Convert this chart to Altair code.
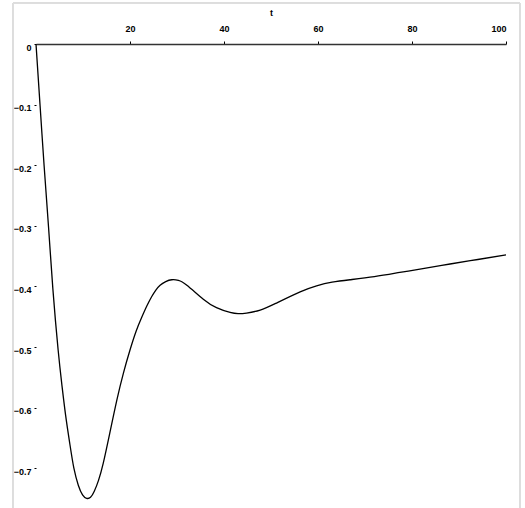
import altair as alt
import pandas as pd

t_vals = [0, 0.87, 1.73, 2.67, 3.58, 4.71, 5.5, 6.29, 7.2, 8.06, 9.0, 9.9, 10.77, 11.6, 12.4, 13.3, 14.3,
          15.7, 17.2, 18.6, 20, 21.3, 22.5, 23.6, 24.6, 25.5, 26.4, 27.6, 28.9, 30.3, 32.1, 35.6, 38.4,
          41.3, 43, 44.8, 47.7, 51, 56.2, 59.7, 63, 66.8, 72, 77.4, 82, 88.1, 94, 100]
v_vals = [0, -0.1018, -0.2013, -0.3025, -0.4032, -0.505, -0.562, -0.612, -0.66, -0.70, -0.728, -0.744, -0.7497, -0.748, -0.738, -0.72, -0.692,
          -0.642, -0.5875, -0.543, -0.505, -0.474, -0.451, -0.432, -0.417, -0.406, -0.398, -0.392, -0.389, -0.39, -0.398, -0.421, -0.435,
          -0.443, -0.445, -0.444, -0.439, -0.428, -0.409, -0.399, -0.393, -0.389, -0.384, -0.377, -0.371, -0.363, -0.3556, -0.348]

x_ticks = [20, 40, 60, 80, 100]
y_ticks = [0, -0.1, -0.2, -0.3, -0.4, -0.5, -0.6, -0.7]

df = pd.DataFrame({"t": t_vals, "v": v_vals})

FONT = "Liberation Sans"

line = alt.Chart(df).mark_line(color="black", strokeWidth=1.3, interpolate="natural", clip=False).encode(
    x=alt.X("t:Q", scale=alt.Scale(domain=[0, 100], nice=False, zero=False),
            axis=alt.Axis(orient="top", values=x_ticks, title="t", titleFont=FONT, titleFontSize=9,
                          titleFontWeight="bold", titlePadding=7, labelFont=FONT, labelFontSize=9,
                          labelFontWeight="bold", labelPadding=8, tickSize=3, tickColor="black",
                          domainColor="#333333", domainWidth=1.3, grid=False, labelColor="black",
                          titleColor="black")),
    y=alt.Y("v:Q", scale=alt.Scale(domain=[-0.764, 0], nice=False, zero=False),
            axis=alt.Axis(values=y_ticks, title=None, domain=False, tickSize=2, tickColor="black",
                          labelFont=FONT, labelFontSize=9, labelFontWeight="bold", labelPadding=3,
                          labelOffset=3, labelColor="black", grid=False,
                          labelExpr="datum.value == 0 ? '0' : format(datum.value, '.1f')")),
)

frame = alt.Chart(df).mark_rect(fill=None, stroke="#dddddd", strokeWidth=1, clip=False).encode(
    x=alt.value(-23), x2=alt.value(484), y=alt.value(-41), y2=alt.value(470)
)

chart = alt.layer(frame, line).properties(
    width=470, height=463,
    padding={"left": 36, "top": 44, "right": 19, "bottom": 1},
    autosize=alt.AutoSizeParams(type="none"),
).configure_view(stroke=None)

chart.save("out.html", embed_options={"renderer": "svg", "actions": False})
